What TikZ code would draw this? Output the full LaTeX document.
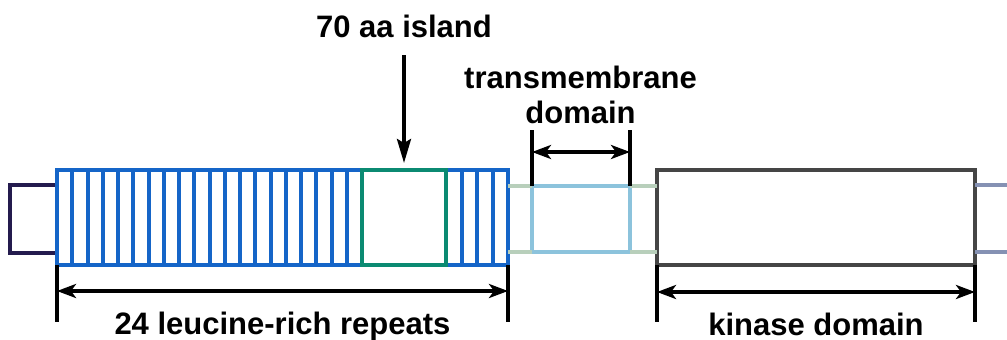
\documentclass[tikz,border=0pt]{standalone}
\usepackage{fontspec}
\setmainfont{Liberation Sans}
\usetikzlibrary{arrows.meta,calc}
\definecolor{navy}{HTML}{241B4E}
\definecolor{lrrblue}{HTML}{1565C8}
\definecolor{teal2}{HTML}{0B8A72}
\definecolor{tmblue}{HTML}{8CC3DC}
\definecolor{linkgreen}{HTML}{B8CFBB}
\definecolor{kgray}{HTML}{454545}
\definecolor{tailblue}{HTML}{8591B3}
\tikzset{
  box/.style={draw, line width=4pt, fill=white, inner sep=0pt, outer sep=0pt},
  stripe/.style={draw=lrrblue, line width=4pt},
  linker/.style={draw=linkgreen, line width=4pt},
  tick/.style={draw=black, line width=3.5pt},
  dim/.style={draw=black, line width=3.5pt, {Stealth[length=19pt,width=14pt,inset=5pt]}-{Stealth[length=19pt,width=14pt,inset=5pt]}},
  pointer/.style={draw=black, line width=3.5pt, -{Stealth[length=24pt,width=14pt,inset=4pt]}},
  lbl/.style={font=\bfseries\fontsize{31}{35}\selectfont, inner sep=0pt, anchor=base, align=center}
}
\begin{document}
\begin{tikzpicture}[x=1pt,y=-1pt]
\useasboundingbox (0,0) rectangle (1007,340);
\node[box, draw=navy, minimum width=47pt, minimum height=68pt] (nterm) at (33.5,219) {};
\node[box, draw=tmblue, minimum width=98pt, minimum height=66pt] (tm) at (581,219) {};
\node[box, draw=lrrblue, minimum width=451pt, minimum height=95pt] (lrr) at (282.5,217.5) {};
\foreach \i in {1,...,19} {
  \draw[stripe] ($(lrr.north west)+(\i*15.25,0)$) -- ($(lrr.south west)+(\i*15.25,0)$);
}
\foreach \xx in {461.5,477,492.5} {
  \draw[stripe] (\xx,170) -- (\xx,265);
}
\node[box, draw=teal2, minimum width=84pt, minimum height=95pt] (island) at (404,217.5) {};
\node[box, draw=kgray, minimum width=318pt, minimum height=95pt] (kinase) at (816,217.5) {};
% linkers
\draw[linker] (lrr.east |- tm.north west) -- (tm.north west);
\draw[linker] (lrr.east |- tm.south west) -- (tm.south west);
\draw[linker] (tm.north east) -- (kinase.west |- tm.north east);
\draw[linker] (tm.south east) -- (kinase.west |- tm.south east);
\coordinate (tail1) at (1007,185);
\coordinate (tail2) at (1007,252);
\draw[draw=tailblue, line width=4pt] (kinase.east |- tail1) -- (tail1);
\draw[draw=tailblue, line width=4pt] (kinase.east |- tail2) -- (tail2);
% LRR dimension
\coordinate (l1) at (57,322);
\coordinate (l2) at (508,322);
\draw[tick] (lrr.south west) -- (l1);
\draw[tick] (lrr.south east) -- (l2);
\draw[dim] ($(lrr.south west)+(0,26)$) -- ($(lrr.south east)+(0,26)$);
\node[lbl] (lrrlbl) at (282.5,334) {24 leucine-rich repeats};
% kinase dimension
\coordinate (k1) at (657,322);
\coordinate (k2) at (975,322);
\draw[tick] (kinase.south west) -- (k1);
\draw[tick] (kinase.south east) -- (k2);
\draw[dim] ($(kinase.south west)+(0,27)$) -- ($(kinase.south east)+(0,27)$);
\node[lbl] (kinlbl) at (816,335) {kinase domain};
% TM dimension
\coordinate (t1) at (532,130);
\coordinate (t2) at (630,130);
\draw[tick] (tm.north west) -- (t1);
\draw[tick] (tm.north east) -- (t2);
\draw[dim] (532,152) -- (630,152);
\node[lbl] (tmlbl) at (580.5,123) {transmembrane\\domain};
% island pointer
\node[lbl] (islbl) at (404,37) {70 aa island};
\coordinate (ptop) at (404,55);
\draw[pointer] (ptop) -- (404,163);
\end{tikzpicture}
\end{document}
